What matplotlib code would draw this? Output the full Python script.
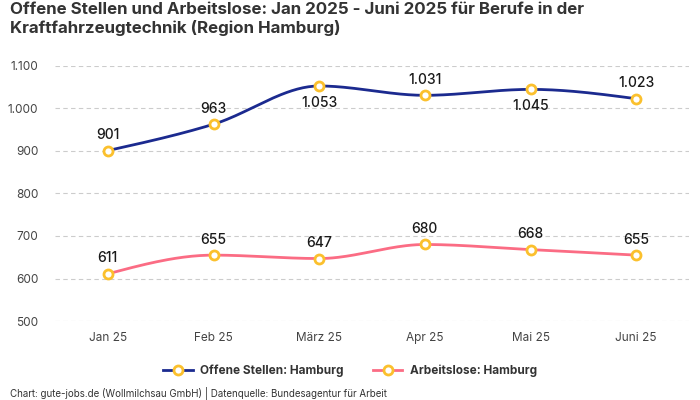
import numpy as np
import matplotlib
matplotlib.use("Agg")
import matplotlib.pyplot as plt
from matplotlib.lines import Line2D

categories = ["Jan 25", "Feb 25", "März 25", "Apr 25", "Mai 25", "Juni 25"]
offene = [901, 963, 1053, 1031, 1045, 1023]
arbeitslose = [611, 655, 647, 680, 668, 655]
offene_pos = ["above", "above", "below", "above", "below", "above"]
arbeitslose_pos = ["above"] * 6
yticks = [500, 600, 700, 800, 900, 1000, 1100]

BLUE = "#1b2a8f"
RED = "#fb6c84"
YELLOW = "#fbc02d"
FONT = ["Inter", "DejaVu Sans"]
plt.rcParams["font.family"] = FONT


def monotone(x, y, n=40):
    x = np.asarray(x, float); y = np.asarray(y, float)
    h = np.diff(x); d = np.diff(y) / h
    m = np.zeros_like(y)
    for i in range(1, len(y) - 1):
        s = (d[i - 1] * h[i] + d[i] * h[i - 1]) / (h[i - 1] + h[i])
        m[i] = (np.sign(d[i-1]) + np.sign(d[i])) * min(abs(d[i-1]), abs(d[i]), 0.5 * abs(s))
    m[0] = (3 * d[0] - m[1]) / 2
    m[-1] = (3 * d[-1] - m[-2]) / 2
    xs, ys = [], []
    for i in range(len(x) - 1):
        t = np.linspace(0, 1, n)
        h00 = 2*t**3 - 3*t**2 + 1; h10 = t**3 - 2*t**2 + t
        h01 = -2*t**3 + 3*t**2; h11 = t**3 - t**2
        xs.append(x[i] + t * h[i])
        ys.append(h00*y[i] + h10*h[i]*m[i] + h01*y[i+1] + h11*h[i]*m[i+1])
    return np.concatenate(xs), np.concatenate(ys)


fig = plt.figure(figsize=(7, 4), dpi=100)
ax = fig.add_axes([55/700, 1 - 321/400, 634/700, 255/400])
x = np.arange(len(categories))
ax.set_xlim(-0.5, len(categories) - 0.5)
ax.set_ylim(500, 1100)

for series, color, pos in [(offene, BLUE, offene_pos), (arbeitslose, RED, arbeitslose_pos)]:
    sx, sy = monotone(x, series)
    ax.plot(sx, sy, color=color, lw=2, zorder=3, clip_on=False)
    ax.plot(x, series, ls="none", marker="o", ms=6.5, mfc="white", mec=YELLOW, mew=2, zorder=4, clip_on=False)
    for xi, v, p in zip(x, series, pos):
        lab = f"{v:,}".replace(",", ".")
        off = 6 if p == "above" else -7
        ax.annotate(lab, (xi, v), xytext=(0, off), textcoords="offset points",
                    ha="center", va="bottom" if p == "above" else "top",
                    fontsize=10, fontweight="medium", color="#1a1a1a", zorder=5)

ax.set_yticks(yticks)
ax.set_yticklabels([f"{v:,}".replace(",", ".") for v in yticks])
ax.set_xticks(x)
ax.set_xticklabels(categories)
ax.tick_params(axis="both", length=0, labelsize=8.5, colors="#444444")
ax.tick_params(axis="y", pad=12)
ax.tick_params(axis="x", pad=8)
ax.grid(axis="y", color="#cccccc", ls=(0, (4, 3)), lw=0.8)
for s in ax.spines.values():
    s.set_visible(False)

handles = [
    Line2D([], [], color=BLUE, lw=2, marker="o", ms=6.5, mfc="white", mec=YELLOW, mew=2),
    Line2D([], [], color=RED, lw=2, marker="o", ms=6.5, mfc="white", mec=YELLOW, mew=2),
]
leg = fig.legend(handles, ["Offene Stellen: Hamburg", "Arbeitslose: Hamburg"],
                 loc="center", bbox_to_anchor=(0.5, 1 - 371/400), ncol=2, frameon=False,
                 prop={"family": FONT, "weight": "bold", "size": 8.5}, handlelength=2.5, columnspacing=2.5,
                 handletextpad=0.6)
for t in leg.get_texts():
    t.set_color("#333333")

fig.text(10/700, 1 - 2/400, "Offene Stellen und Arbeitslose: Jan 2025 - Juni 2025 für Berufe in der\nKraftfahrzeugtechnik (Region Hamburg)",
         ha="left", va="top", fontsize=12.2, fontweight="bold", color="#333333", linespacing=1.2)
fig.text(10/700, 1 - 393/400, "Chart: gute-jobs.de (Wollmilchsau GmbH) | Datenquelle: Bundesagentur für Arbeit",
         ha="left", va="center", fontsize=7, color="#333333")

fig.savefig("out.png", dpi=100)
